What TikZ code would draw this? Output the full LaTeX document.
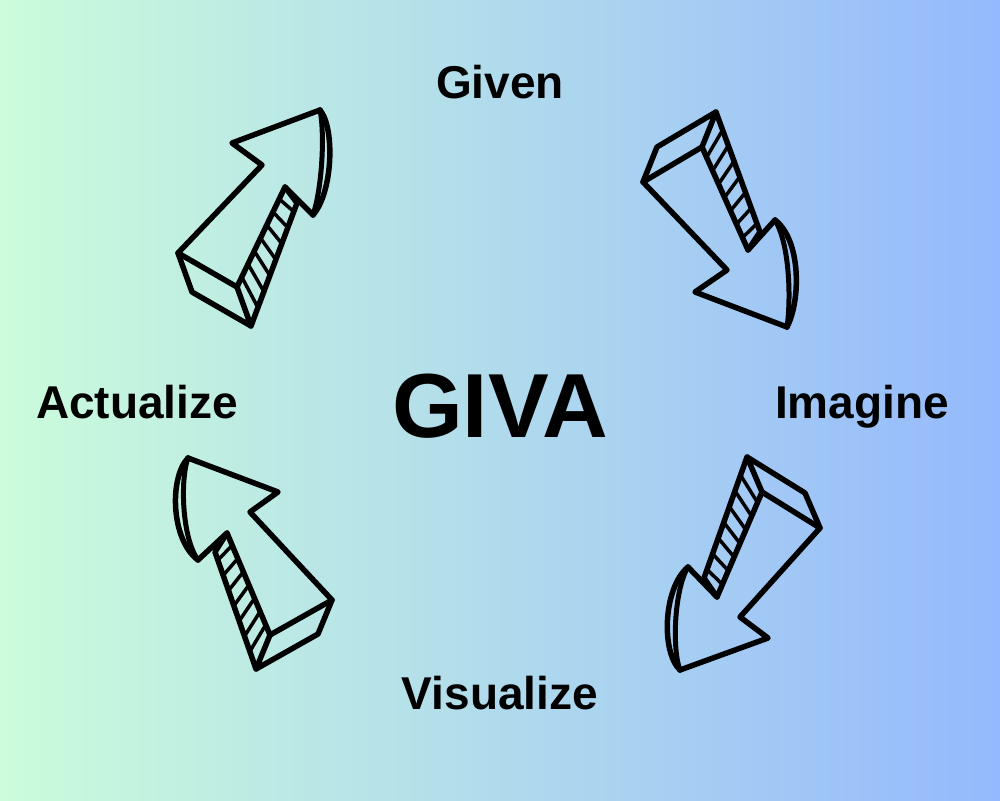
\documentclass[tikz,border=0pt]{standalone}
\usepackage{fontspec}
\setmainfont{Liberation Sans}
\usetikzlibrary{calc}
\definecolor{bgL}{HTML}{CBFCDB}
\definecolor{bgR}{HTML}{95B9FD}
\tikzset{
  lbl/.style={font=\bfseries\fontsize{46}{50}\selectfont, text=black, inner sep=0pt},
  big/.style={font=\bfseries\fontsize{91}{93}\selectfont, text=black, inner sep=0pt},
  face/.style={line width=5.5pt, line join=round, line cap=round, draw=black},
  hatch/.style={line width=3.5pt, line cap=round, draw=black},
  rim/.style={line width=5pt, line cap=round, draw=black},
}
\begin{document}
\begin{tikzpicture}[x=1pt,y=-1pt]
\shade[left color=bgL, right color=bgR] (0,0) rectangle (1000,800);
\useasboundingbox (0,0) rectangle (1000,800);

% labels
\node[lbl, anchor=base] (given) at (500,98) {Given};
\node[lbl, anchor=base] (imagine) at (862,418) {Imagine};
\node[lbl, anchor=base] (visualize) at (500,709) {Visualize};
\node[lbl, anchor=base] (actualize) at (137,418) {Actualize};
\node[big, anchor=base] (giva) at (500,437) {GIVA};

% ---------- arrow 1 (top-left, pointing up-right)
\coordinate (a1T) at (320,110);
\coordinate (a1RB) at (313,215);
\coordinate (a1RN) at (285,187);
\coordinate (a1RT) at (237,287);
\coordinate (a1LT) at (178,253);
\coordinate (a1LN) at (262,165);
\coordinate (a1LB) at (232,143);
\coordinate (a1LTb) at (192,292);
\coordinate (a1RTb) at (251,326);
\coordinate (a1RNb) at (297,203);
\draw[face] (a1T) -- (a1LB) -- (a1LN) -- (a1LT) -- (a1RT) -- (a1RN) -- (a1RB);
\draw[face] (a1RB) .. controls (333,192) and (335,128) .. (a1T);
\draw[rim] (a1RB) .. controls (322,188) and (325,135) .. (a1T);
\draw[face] (a1LT) -- (a1LTb) -- (a1RTb) -- (a1RT);
\draw[face] (a1RTb) -- (a1RNb) -- (a1RN);
\foreach \t in {0.1,0.23,...,0.9}
  \draw[hatch] ($(a1RT)!\t!(a1RN)$) -- ($(a1RTb)!\t+0.05!(a1RNb)$);

% ---------- arrow 2 (top-right, pointing down-right)
\coordinate (a2T) at (787,327);
\coordinate (a2LB) at (695,292);
\coordinate (a2LN) at (727,270);
\coordinate (a2FL) at (643,182);
\coordinate (a2FR) at (702,147);
\coordinate (a2RN) at (748,250);
\coordinate (a2RB) at (775,220);
\coordinate (a2FLb) at (657,147);
\coordinate (a2FRb) at (716,112);
\coordinate (a2RNb) at (760,232);
\draw[face] (a2T) -- (a2LB) -- (a2LN) -- (a2FL) -- (a2FR) -- (a2RN) -- (a2RB);
\draw[face] (a2RB) .. controls (801,240) and (801,300) .. (a2T);
\draw[rim] (a2RB) .. controls (790,245) and (791,300) .. (a2T);
\draw[face] (a2FL) -- (a2FLb) -- (a2FRb) -- (a2FR);
\draw[face] (a2FRb) -- (a2RNb) -- (a2RN);
\foreach \t in {0.1,0.23,...,0.9}
  \draw[hatch] ($(a2FR)!\t!(a2RN)$) -- ($(a2FRb)!\t+0.05!(a2RNb)$);

% ---------- arrow 3 (bottom-left, pointing up-left)
\coordinate (a3T) at (188,458);
\coordinate (a3RB) at (278,492);
\coordinate (a3RN) at (250,512);
\coordinate (a3RTl) at (332,600);
\coordinate (a3LTl) at (270,635);
\coordinate (a3LN) at (227,533);
\coordinate (a3LB) at (198,560);
\coordinate (a3RTlb) at (318,634);
\coordinate (a3LTlb) at (256,669);
\coordinate (a3LNb) at (215,552);
\draw[face] (a3T) -- (a3RB) -- (a3RN) -- (a3RTl) -- (a3LTl) -- (a3LN) -- (a3LB);
\draw[face] (a3LB) .. controls (171,540) and (169,478) .. (a3T);
\draw[rim] (a3LB) .. controls (182,538) and (180,480) .. (a3T);
\draw[face] (a3RTl) -- (a3RTlb) -- (a3LTlb) -- (a3LTl);
\draw[face] (a3LTlb) -- (a3LNb) -- (a3LN);
\foreach \t in {0.1,0.23,...,0.9}
  \draw[hatch] ($(a3LTl)!\t!(a3LN)$) -- ($(a3LTlb)!\t+0.05!(a3LNb)$);

% ---------- arrow 4 (bottom-right, pointing down-left)
\coordinate (a4T) at (680,670);
\coordinate (a4LB) at (688,567);
\coordinate (a4LN) at (717,597);
\coordinate (a4TL) at (762,492);
\coordinate (a4TR) at (820,528);
\coordinate (a4RN) at (740,617);
\coordinate (a4RB) at (768,638);
\coordinate (a4TLb) at (747,457);
\coordinate (a4TRb) at (805,493);
\coordinate (a4LNb) at (704,578);
\draw[face] (a4T) -- (a4RB) -- (a4RN) -- (a4TR) -- (a4TL) -- (a4LN) -- (a4LB);
\draw[face] (a4LB) .. controls (663,588) and (661,652) .. (a4T);
\draw[rim] (a4LB) .. controls (674,590) and (672,650) .. (a4T);
\draw[face] (a4TL) -- (a4TLb) -- (a4TRb) -- (a4TR);
\draw[face] (a4TLb) -- (a4LNb) -- (a4LN);
\foreach \t in {0.1,0.23,...,0.9}
  \draw[hatch] ($(a4TL)!\t!(a4LN)$) -- ($(a4TLb)!\t+0.05!(a4LNb)$);
\end{tikzpicture}
\end{document}
